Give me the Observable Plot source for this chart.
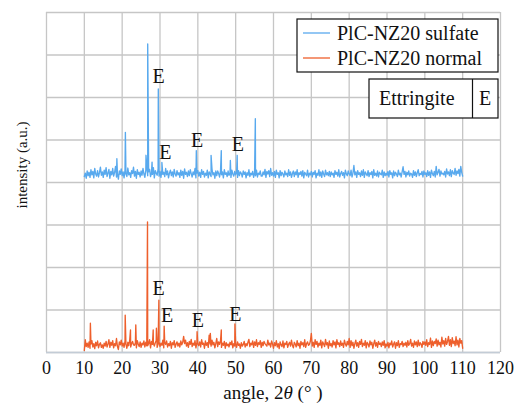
<!DOCTYPE html>
<html>
<head>
<meta charset="utf-8">
<script src="https://cdn.jsdelivr.net/npm/d3@7"></script>
<script src="https://cdn.jsdelivr.net/npm/@observablehq/plot@0.6"></script>
<style>
  html, body { margin: 0; padding: 0; background: #fff; }
  #chart { position: relative; width: 521px; height: 406px; }
  #chart svg, #chart svg text, #chart svg tspan, #chart svg g { font-family: "Liberation Serif" !important; }
</style>
</head>
<body>
<div id="chart"></div>
<script>
// ---- data ----
const seriesNames = ["PlC-NZ20 sulfate", "PlC-NZ20 normal"];
const seriesColors = ["#58a9ee", "#ee5f2c"];
const xTicks = [0, 10, 20, 30, 40, 50, 60, 70, 80, 90, 100, 110, 120];
const yGrid = [0, 100, 200, 300, 400, 500, 600, 700, 800];
const angleStart = 10, angleEnd = 110, angleStep = 0.25;

// background intensity (a.u.) read at 0.25° steps, 10° .. 110°
const normalNoise = [
  5,30,14,22,12,25,10,20,28,13,21,9,24,16,27,11,19,23,12,18,
  10,22,15,26,13,20,30,12,24,17,28,11,21,16,33,14,7,25,18,29,
  15,22,12,27,19,10,24,16,30,13,21,26,18,17,23,11,28,20,14,25,
  12,22,18,27,13,24,16,16,21,30,11,26,19,22,15,23,28,12,20,25,
  14,22,17,29,11,24,19,27,13,21,16,26,10,23,18,28,12,20,25,15,
  22,13,27,18,24,38,21,29,15,23,12,26,19,31,14,22,17,28,11,24,
  20,16,25,13,30,19,22,10,27,17,23,12,41,20,15,29,18,24,11,21,
  33,14,25,19,28,12,22,17,26,10,23,16,20,13,24,18,27,11,21,15,
  22,12,25,17,20,10,23,15,19,26,13,21,16,24,31,14,22,18,27,12,
  25,17,30,14,23,19,28,12,24,16,26,21,18,15,29,18,22,13,27,20,
  10,23,16,28,13,21,9,25,18,14,27,11,22,19,26,12,20,24,15,29,
  17,11,24,20,13,28,16,22,10,26,18,23,14,30,12,21,25,17,19,27,
  45,15,24,12,30,19,26,13,22,17,29,11,25,20,14,31,18,23,10,27,
  16,21,13,28,18,25,11,30,19,23,14,27,17,22,12,29,20,15,26,18,
  33,12,28,16,24,10,21,29,15,23,12,26,19,31,14,22,17,28,11,24,
  20,13,27,18,24,10,21,29,15,23,12,26,19,22,14,25,17,28,11,20,
  15,24,11,22,18,27,13,20,25,10,23,16,28,12,21,19,26,14,22,17,
  24,13,28,17,21,31,15,22,12,27,18,25,14,29,16,23,20,12,26,19,
  25,17,30,14,23,19,34,12,27,16,26,21,32,15,29,18,24,13,36,20,
  28,15,33,19,26,38,17,30,14,35,21,27,16,37,18,29,13,33,22,28,
  10
];
const sulfateNoise = [
  414,422,410,427,416,424,412,430,418,426,411,433,420,415,428,413,423,436,417,425,
  412,429,419,435,414,422,431,410,426,418,433,415,424,438,413,421,408,427,419,432,
  416,425,411,429,420,414,434,418,423,412,428,421,436,415,426,410,430,419,424,413,
  427,417,433,420,412,429,438,416,425,431,414,423,419,435,411,428,422,417,432,415,
  426,412,430,419,424,414,433,418,427,411,422,429,416,425,413,431,420,415,428,418,
  423,412,429,417,426,410,432,419,424,414,427,416,430,421,413,425,418,433,411,422,
  428,415,424,412,430,419,426,413,422,417,429,411,425,420,414,431,418,423,410,427,
  416,427,421,413,428,418,425,411,430,419,423,414,427,417,422,412,429,420,415,426,
  418,424,412,428,416,425,421,413,427,419,425,411,423,417,430,414,422,418,426,412,
  424,416,429,413,422,419,427,415,415,425,418,431,412,426,420,428,414,433,417,423,
  415,426,412,429,419,423,411,428,416,424,420,413,427,418,422,414,430,417,425,412,
  421,427,414,425,418,430,412,423,419,426,415,428,411,424,420,416,429,413,422,418,
  426,413,424,419,428,411,422,417,430,415,425,412,427,420,414,429,418,423,416,426,
  414,425,418,422,412,428,419,424,415,430,413,421,426,417,423,411,429,420,416,427,
  420,416,429,413,422,440,418,425,412,428,419,423,414,427,417,430,412,425,420,416,
  428,414,423,419,426,411,430,417,422,415,427,413,424,420,418,429,412,425,416,422,
  417,426,413,428,419,423,411,427,416,424,420,414,429,418,422,413,425,437,419,426,
  413,424,418,427,415,422,420,412,428,417,425,414,423,430,416,421,419,426,413,427,
  419,423,414,428,417,425,412,429,421,416,426,413,438,418,424,431,415,427,420,422,
  418,426,413,432,420,425,416,430,414,428,422,419,433,417,427,421,431,415,438,424,
  415
];

// diffraction peaks: angle (°) and intensity (a.u.)
const normalPeakAngles = [11.6, 20.8, 22.2, 23.6, 26.7, 28.2, 29.05, 29.7, 31.1, 39.8, 43.3, 46.2, 49.8];
const normalPeakValues = [69, 88, 53, 65, 307, 53, 57, 123, 62, 49, 45, 53, 67];
const sulfatePeakAngles = [18.6, 20.85, 26.3, 26.75, 27.9, 29.55, 30.5, 39.6, 43.5, 46.2, 48.6, 50.4, 55.2];
const sulfatePeakValues = [456, 518, 464, 726, 448, 620, 447, 475, 464, 475, 452, 464, 550];

// "E" (ettringite) markers
const sulfateEAngles = [29.66, 31.4, 39.8, 50.6];
const sulfateEY = [649, 471, 499, 489];
const normalEAngles = [29.66, 31.9, 40.0, 49.9];
const normalEY = [151, 86, 75, 90];
const phaseName = "Ettringite", phaseCode = "E";

// ---- build tables ----
const grid = d3.range(angleStart, angleEnd + angleStep / 2, angleStep);
function buildSeries(noise, pa, pv, name) {
  const rows = grid.map((a, i) => ({angle: a, value: noise[i], series: name}));
  pa.forEach((a, i) => rows.push({angle: a, value: pv[i], series: name}));
  rows.sort((p, q) => p.angle - q.angle);
  return rows;
}
const sulfate = buildSeries(sulfateNoise, sulfatePeakAngles, sulfatePeakValues, seriesNames[0]);
const normal = buildSeries(normalNoise, normalPeakAngles, normalPeakValues, seriesNames[1]);
const eLabels = [
  ...sulfateEAngles.map((a, i) => ({angle: a, y: sulfateEY[i]})),
  ...normalEAngles.map((a, i) => ({angle: a, y: normalEY[i]}))
];

const FONT = "Liberation Serif";
const gridColor = "#c6c6c6";
const plot = Plot.plot({
  width: 521,
  height: 406,
  marginLeft: 46,
  marginRight: 21,
  marginTop: 12,
  marginBottom: 54,
  style: {background: "#fff", color: "#111"},
  x: {domain: [0, 120]},
  y: {domain: [0, 800]},
  marks: [
    Plot.gridX(xTicks, {stroke: gridColor, strokeOpacity: 1, strokeWidth: 1.3}),
    Plot.gridY(yGrid, {stroke: gridColor, strokeOpacity: 1, strokeWidth: 1.3}),
    Plot.ruleY([0], {stroke: "#c3ccd6", strokeWidth: 1.3}),
    Plot.line(normal, {x: "angle", y: "value", stroke: seriesColors[1], strokeWidth: 1.35}),
    Plot.line(sulfate, {x: "angle", y: "value", stroke: seriesColors[0], strokeWidth: 1.35}),
    Plot.text(eLabels, {x: "angle", y: "y", text: () => phaseCode, fontSize: 20, fill: "#111", fontFamily: FONT}),
    Plot.axisX(xTicks, {tickSize: 0, tickPadding: 9, fontSize: 18, label: null, fill: "#111", fontFamily: FONT}),
    Plot.axisY({ticks: [], label: null})
  ]
});
plot.setAttribute("font-family", FONT);
document.getElementById("chart").appendChild(plot);

// ---- labels & legend ----
const svg = d3.select(plot);
const ax = svg.append("text")
  .attr("x", 273).attr("y", 399)
  .attr("text-anchor", "middle").attr("font-family", FONT)
  .attr("font-size", 19).attr("fill", "#111");
ax.append("tspan").text("angle, 2");
ax.append("tspan").attr("font-style", "italic").text("θ");
ax.append("tspan").text(" (° )");

svg.append("text")
  .attr("transform", "translate(27,165) rotate(-90)")
  .attr("text-anchor", "middle").attr("font-family", FONT)
  .attr("font-size", 15).attr("fill", "#111")
  .text("intensity (a.u.)");

const lg = svg.append("g").attr("font-family", FONT).attr("text-anchor", "start");
lg.append("rect").attr("x", 297).attr("y", 19).attr("width", 201).attr("height", 53)
  .attr("fill", "#fff").attr("stroke", "#111").attr("stroke-width", 1.2);
seriesNames.forEach((n, i) => {
  const yy = 33 + i * 25;
  lg.append("line").attr("x1", 303).attr("x2", 330).attr("y1", yy).attr("y2", yy)
    .attr("stroke", seriesColors[i]).attr("stroke-width", 1.3);
  lg.append("text").attr("x", 337).attr("y", yy + 7).attr("font-size", 20).attr("fill", "#111").text(n);
});
const pb = svg.append("g").attr("font-family", FONT).attr("text-anchor", "start");
pb.append("rect").attr("x", 369).attr("y", 79).attr("width", 129).attr("height", 39)
  .attr("fill", "#fff").attr("stroke", "#111").attr("stroke-width", 1.2);
pb.append("line").attr("x1", 472.5).attr("x2", 472.5).attr("y1", 79).attr("y2", 118)
  .attr("stroke", "#111").attr("stroke-width", 1.2);
pb.append("text").attr("x", 379).attr("y", 105).attr("font-size", 20).attr("fill", "#111").text(phaseName);
pb.append("text").attr("x", 479).attr("y", 105).attr("font-size", 20).attr("fill", "#111").text(phaseCode);
</script>
</body>
</html>
